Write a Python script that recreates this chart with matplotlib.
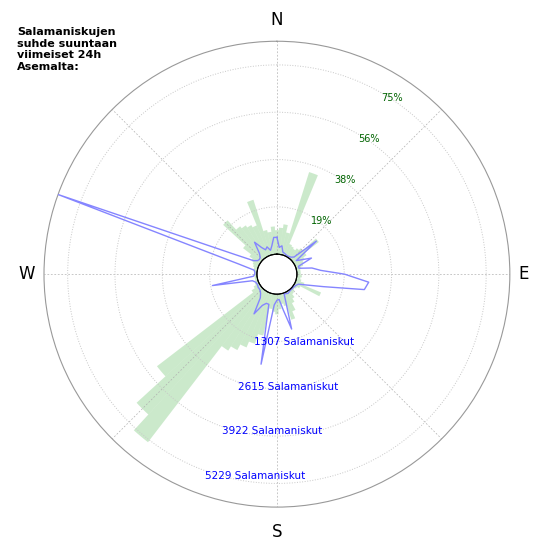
import numpy as np
import matplotlib
matplotlib.use("Agg")
import matplotlib.pyplot as plt

# direction bins (deg, clockwise from north), 5 degree sectors
directions_deg = np.arange(0, 360, 5)

# share of strikes per direction (%), green bars
share_pct = [
    9.5, 10.5, 12, 9, 34.5, 5, 4.5, 4, 5, 6, 13, 6,
    4.5, 3.5, 3, 2, 1.5, 1.5, 1.5, 2, 1.5, 2, 3.5, 11,
    2.5, 1.5, 1, 1.5, 2, 3.5, 5, 8, 11, 5, 4, 6,
    8, 7, 6, 17, 21, 23.5, 26, 28, 76, 67.5, 52, 4,
    2.5, 1.5, 1, 1, 1, 1, 1, 1, 1.5, 1.5, 2, 2.5,
    3.5, 5, 9, 21, 16, 15, 14, 13, 23, 10, 9, 11,
]

# strike counts per direction, blue line
strike_counts = [
    465, 190, 243, 80, 60, 40, 30, 40, 60, 120, 870, 100,
    250, 500, 80, 80, 430, 660, 1318, 1993, 1900, 780, 325, 100,
    60, 40, 30, 30, 30, 40, 60, 40, 30, 1017, 450, 150,
    167, 300, 1973, 310, 305, 400, 714, 250, 150, 100, 80, 80,
    60, 60, 80, 150, 1257, 100, 60, 60, 85, 560, 5883, 750,
    195, 100, 80, 100, 200, 525, 300, 190, 250, 130, 250, 467,
]

pct_ticks = [18.75, 37.5, 56.25, 75]
pct_max = 84.375
count_ticks = [1307, 2615, 3922, 5229]
count_max = 5883
count_unit = "Salamaniskut"
compass_labels = ["N", "E", "S", "W"]
compass_deg = [0, 90, 180, 270]
title_lines = ["Salamaniskujen", "suhde suuntaan", "viimeiset 24h", "Asemalta:"]

hole = 0.0939  # inner hole as a fraction of rmax

fig = plt.figure(figsize=(5.5, 5.5), dpi=100)
rect = [0.08, 0.078, 0.847, 0.847]

# --- percentage axis (bars + grid) ---
ax = fig.add_axes(rect, projection="polar")
ax.set_theta_zero_location("N")
ax.set_theta_direction(-1)
theta = np.deg2rad(directions_deg)
ax.bar(theta, share_pct, width=np.deg2rad(5), color="#33aa33", alpha=0.25,
       linewidth=0, align="center")
ax.set_ylim(0, pct_max)
ax.set_rorigin(-hole * pct_max)
ax.set_yticks(pct_ticks)
ax.set_yticklabels([])
ax.set_xticks(np.deg2rad(np.arange(0, 360, 45)))
ax.set_xticklabels([])
ax.xaxis.grid(True, color="#b0b0b0", linestyle=(0, (2.5, 2.5)), linewidth=0.5)
ax.yaxis.grid(True, color="#c8c8c8", linestyle=":", linewidth=0.7)
ax.spines["polar"].set_color("#999999")
ax.spines["polar"].set_linewidth(0.8)
ax.spines["inner"].set_visible(True)
ax.spines["inner"].set_color("black")
ax.spines["inner"].set_linewidth(0.8)
for v in pct_ticks:
    ax.text(np.deg2rad(30), v, f"{round(v)}%", color="#006400", fontsize=7,
            ha="left", va="top")

# compass letters just outside the rim (E/W sit a bit closer than N/S)
label_r = {"N": 1.10, "E": 1.065, "S": 1.115, "W": 1.08}
for lab, deg in zip(compass_labels, compass_deg):
    ax.text(np.deg2rad(deg), pct_max * label_r[lab], lab, fontsize=12,
            ha="center", va="center", clip_on=False)

# --- count axis (line) ---
ax2 = fig.add_axes(rect, projection="polar", label="counts")
ax2.set_theta_zero_location("N")
ax2.set_theta_direction(-1)
ax2.patch.set_visible(False)
closed_theta = np.append(theta, theta[0])
closed_counts = np.append(strike_counts, strike_counts[0])
ax2.plot(closed_theta, closed_counts, color="#8585ff", linewidth=1.0)
ax2.set_ylim(0, count_max)
ax2.set_rorigin(-hole * count_max)
ax2.set_yticks([])
ax2.set_xticks([])
ax2.grid(False)
for sp in ax2.spines.values():
    sp.set_visible(False)
for v in count_ticks:
    ax2.text(np.deg2rad(200), v, f"{v} {count_unit}", color="blue", fontsize=7.5,
             ha="left", va="top")

fig.text(17 / 550, 1 - 27 / 550, "\n".join(title_lines), fontsize=8,
         fontweight="bold", ha="left", va="top", linespacing=1.2)

fig.savefig("out.png", dpi=100)
